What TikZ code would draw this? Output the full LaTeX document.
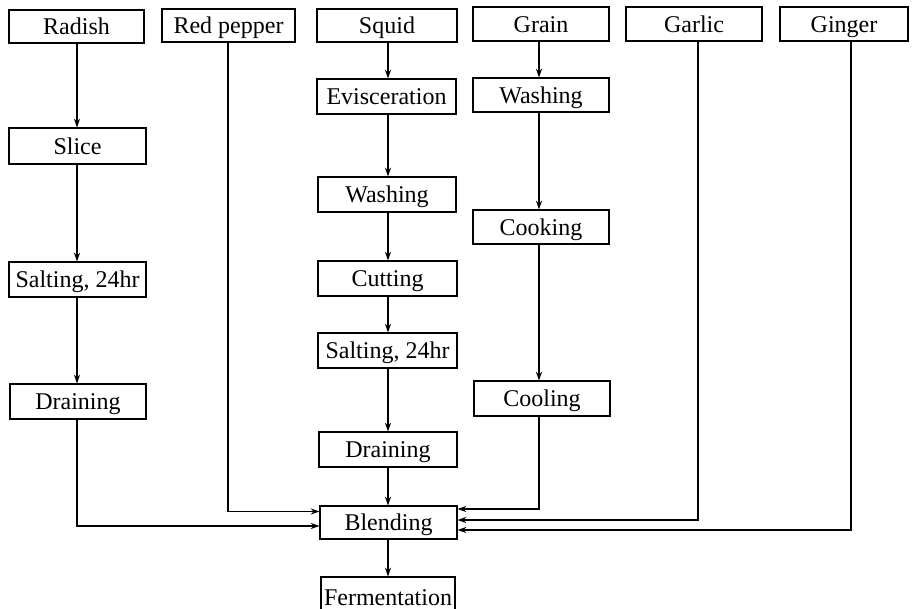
\documentclass[tikz,border=0pt]{standalone}
\usepackage{fontspec}
\setmainfont{Liberation Serif}
\usetikzlibrary{arrows.meta,calc}
\tikzset{
  box/.style={draw, line width=0.8pt, inner sep=0pt, align=center,
    text height=14pt, text depth=1.4pt,
    font=\fontsize{18}{20}\selectfont},
  flow/.style={line width=1pt, -{Stealth[length=6.5pt,width=4.5pt]}}
}
\newcommand\boxat[6]{\node[box,minimum width={(#3-#2)*0.75pt},minimum height={(#5-#4)*0.75pt}] (#1) at ({(#2+#3)/2},{(#4+#5)/2}) {#6};}
\begin{document}
\begin{tikzpicture}[x=0.75pt,y=-0.75pt]
\clip (0,0) rectangle (912,609);
\fill[white] (0,0) rectangle (912,609);
% top row
\boxat{radish}{9}{144}{10}{43}{Radish}
\boxat{pepper}{162}{295}{9}{42}{Red pepper}
\boxat{squid}{317}{457}{9}{42}{Squid}
\boxat{grain}{473}{609}{7}{41}{Grain}
\boxat{garlic}{626}{762}{7}{41}{Garlic}
\boxat{ginger}{780}{908}{7}{41}{Ginger}
% radish column
\boxat{slice}{9}{146}{128}{164}{Slice}
\boxat{saltr}{9}{146}{262}{297}{Salting, 24hr}
\boxat{drainr}{10}{146}{384}{419}{Draining}
% squid column
\boxat{evisc}{317}{456}{79}{114}{Evisceration}
\boxat{washs}{318}{456}{177}{212}{Washing}
\boxat{cut}{318}{457}{261}{296}{Cutting}
\boxat{salts}{318}{457}{333}{368}{Salting, 24hr}
\boxat{drains}{319}{457}{432}{467}{Draining}
\boxat{blend}{320}{457}{506}{539}{Blending}
\boxat{ferm}{321}{455}{577}{617}{Fermentation}
% grain column
\boxat{washg}{473}{609}{78}{112}{Washing}
\boxat{cook}{473}{609}{210}{244}{Cooking}
\boxat{cool}{474}{610}{381}{416}{Cooling}
% column x positions
\coordinate (cr) at (77,0);
\coordinate (cp) at (228,0);
\coordinate (cs) at (388,0);
\coordinate (cg) at (539,0);
\coordinate (cga) at (698,0);
\coordinate (cgi) at (851,0);
% radish column arrows
\draw[flow] (radish.south -| cr) -- (slice.north -| cr);
\draw[flow] (slice.south -| cr) -- (saltr.north -| cr);
\draw[flow] (saltr.south -| cr) -- (drainr.north -| cr);
% squid column arrows
\draw[flow] (squid.south -| cs) -- (evisc.north -| cs);
\draw[flow] (evisc.south -| cs) -- (washs.north -| cs);
\draw[flow] (washs.south -| cs) -- (cut.north -| cs);
\draw[flow] (cut.south -| cs) -- (salts.north -| cs);
\draw[flow] (salts.south -| cs) -- (drains.north -| cs);
\draw[flow] (drains.south -| cs) -- (blend.north -| cs);
\draw[flow] (blend.south -| cs) -- (ferm.north -| cs);
% grain column arrows
\draw[flow] (grain.south -| cg) -- (washg.north -| cg);
\draw[flow] (washg.south -| cg) -- (cook.north -| cg);
\draw[flow] (cook.south -| cg) -- (cool.north -| cg);
% into blending
\draw[flow] (pepper.south -| cp) |- ($(blend.west)+(0,-11)$);
\draw[flow] (drainr.south -| cr) |- ($(blend.west)+(0,3.5)$);
\draw[flow] (cool.south -| cg) |- ($(blend.east)+(0,-13.5)$);
\draw[flow] (garlic.south -| cga) |- ($(blend.east)+(0,-2.5)$);
\draw[flow] (ginger.south -| cgi) |- ($(blend.east)+(0,7.5)$);
\end{tikzpicture}
\end{document}
